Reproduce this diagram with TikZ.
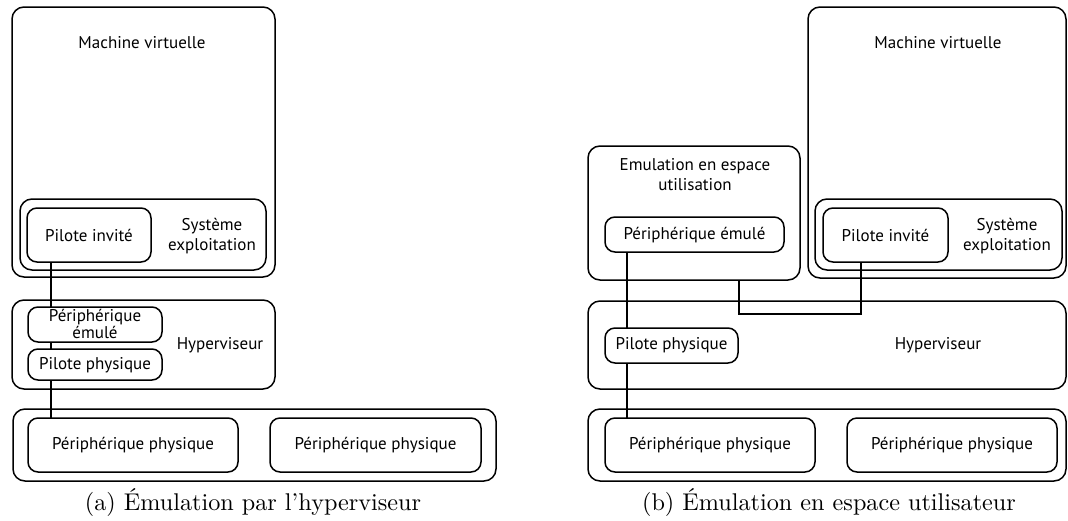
\documentclass[tikz,border=0pt]{standalone}
\usepackage{fontspec}
\setmainfont{Latin Modern Roman}
\newfontfamily\capfont{lmroman10-regular.otf}
\newfontfamily\boxfont{PT Sans}
\begin{document}
\begin{tikzpicture}[x=1pt,y=-1pt,
  frame/.style={draw, line width=1.5pt, rounded corners=12pt, inner sep=0pt, outer sep=0pt, anchor=north west},
  sub/.style={frame, rounded corners=10pt},
  lbl/.style={inner sep=0pt, font=\boxfont\fontsize{17}{21}\selectfont, align=center},
  captext/.style={inner sep=0pt, anchor=base, font=\capfont\fontsize{24.2}{29}\selectfont},
  wire/.style={line width=1.5pt}]
\useasboundingbox (0,0) rectangle (1068,520);

% ---------- (a) emulation in the hypervisor ----------
\node[frame, minimum width=263, minimum height=270] (vmA) at (12,7) {};
\node[lbl] (vmAt) at (142,43) {Machine virtuelle};
\node[frame, minimum width=246, minimum height=71] (osA) at (20,199) {};
\node[lbl] (osAt) at (212,236) {Système\\[-1pt]exploitation};
\node[sub, minimum width=124, minimum height=54] (piA) at (27,208) {};
\node[lbl] (piAt) at (89,235) {Pilote invité};

\node[frame, minimum width=263, minimum height=89] (hvA) at (12,300) {};
\node[lbl] (hvAt) at (220,345) {Hyperviseur};
\node[sub, minimum width=134, minimum height=35] (peA) at (28,307) {};
\node[lbl, font=\boxfont\fontsize{17}{14}\selectfont] (peAt) at (95,324) {Périphérique\\émulé};
\node[sub, minimum width=134, minimum height=31] (ppA) at (28,349) {};
\node[lbl] (ppAt) at (95,365) {Pilote physique};

\node[frame, minimum width=483, minimum height=72] (bkA) at (13,409) {};
\node[sub, minimum width=210, minimum height=54] (pp1A) at (28,418) {};
\node[lbl] (pp1At) at (133,445) {Périphérique physique};
\node[sub, minimum width=211, minimum height=54] (pp2A) at (270,418) {};
\node[lbl] (pp2At) at (375.5,445) {Périphérique physique};

\draw[wire] ([xshift=24]piA.south west) -- ([xshift=23]peA.north west);
\draw[wire] ([xshift=23]peA.south west) -- ([xshift=23]ppA.north west);
\draw[wire] ([xshift=23]ppA.south west) -- ([xshift=23]pp1A.north west);

\node[captext] (capA) at (253,510) {(a) Émulation par l’hyperviseur};

% ---------- (b) emulation in user space ----------
\node[frame, minimum width=212, minimum height=134] (emB) at (588,146) {};
\node[lbl] (emBt) at (695,175) {Emulation en espace\\[-1pt]utilisation};
\node[sub, minimum width=179, minimum height=35] (peB) at (605,217) {};
\node[lbl] (peBt) at (694.5,235) {Périphérique émulé};

\node[frame, minimum width=258, minimum height=271] (vmB) at (808,7) {};
\node[lbl] (vmBt) at (938,43) {Machine virtuelle};
\node[frame, minimum width=247, minimum height=71] (osB) at (815,199) {};
\node[lbl] (osBt) at (1007,236) {Système\\[-1pt]exploitation};
\node[sub, minimum width=125, minimum height=54] (piB) at (823,208) {};
\node[lbl] (piBt) at (885.5,235) {Pilote invité};

\node[frame, minimum width=478, minimum height=88] (hvB) at (588,301) {};
\node[lbl] (hvBt) at (938,345) {Hyperviseur};
\node[sub, minimum width=133, minimum height=35] (ppB) at (605,328) {};
\node[lbl] (ppBt) at (671.5,345.5) {Pilote physique};

\node[frame, minimum width=478, minimum height=72] (bkB) at (588,409) {};
\node[sub, minimum width=210, minimum height=54] (pp1B) at (605,418) {};
\node[lbl] (pp1Bt) at (710,445) {Périphérique physique};
\node[sub, minimum width=210, minimum height=54] (pp2B) at (847,418) {};
\node[lbl] (pp2Bt) at (952,445) {Périphérique physique};

\draw[wire] ([xshift=22]peB.south west) -- ([xshift=22]ppB.north west);
\draw[wire] ([xshift=22]ppB.south west) -- ([xshift=22]pp1B.north west);
\draw[wire] ([xshift=151]emB.south west) -- ++(0,34) -| ([xshift=38]piB.south west);

\node[captext] (capB) at (829,510) {(b) Émulation en espace utilisateur};
\end{tikzpicture}
\end{document}
